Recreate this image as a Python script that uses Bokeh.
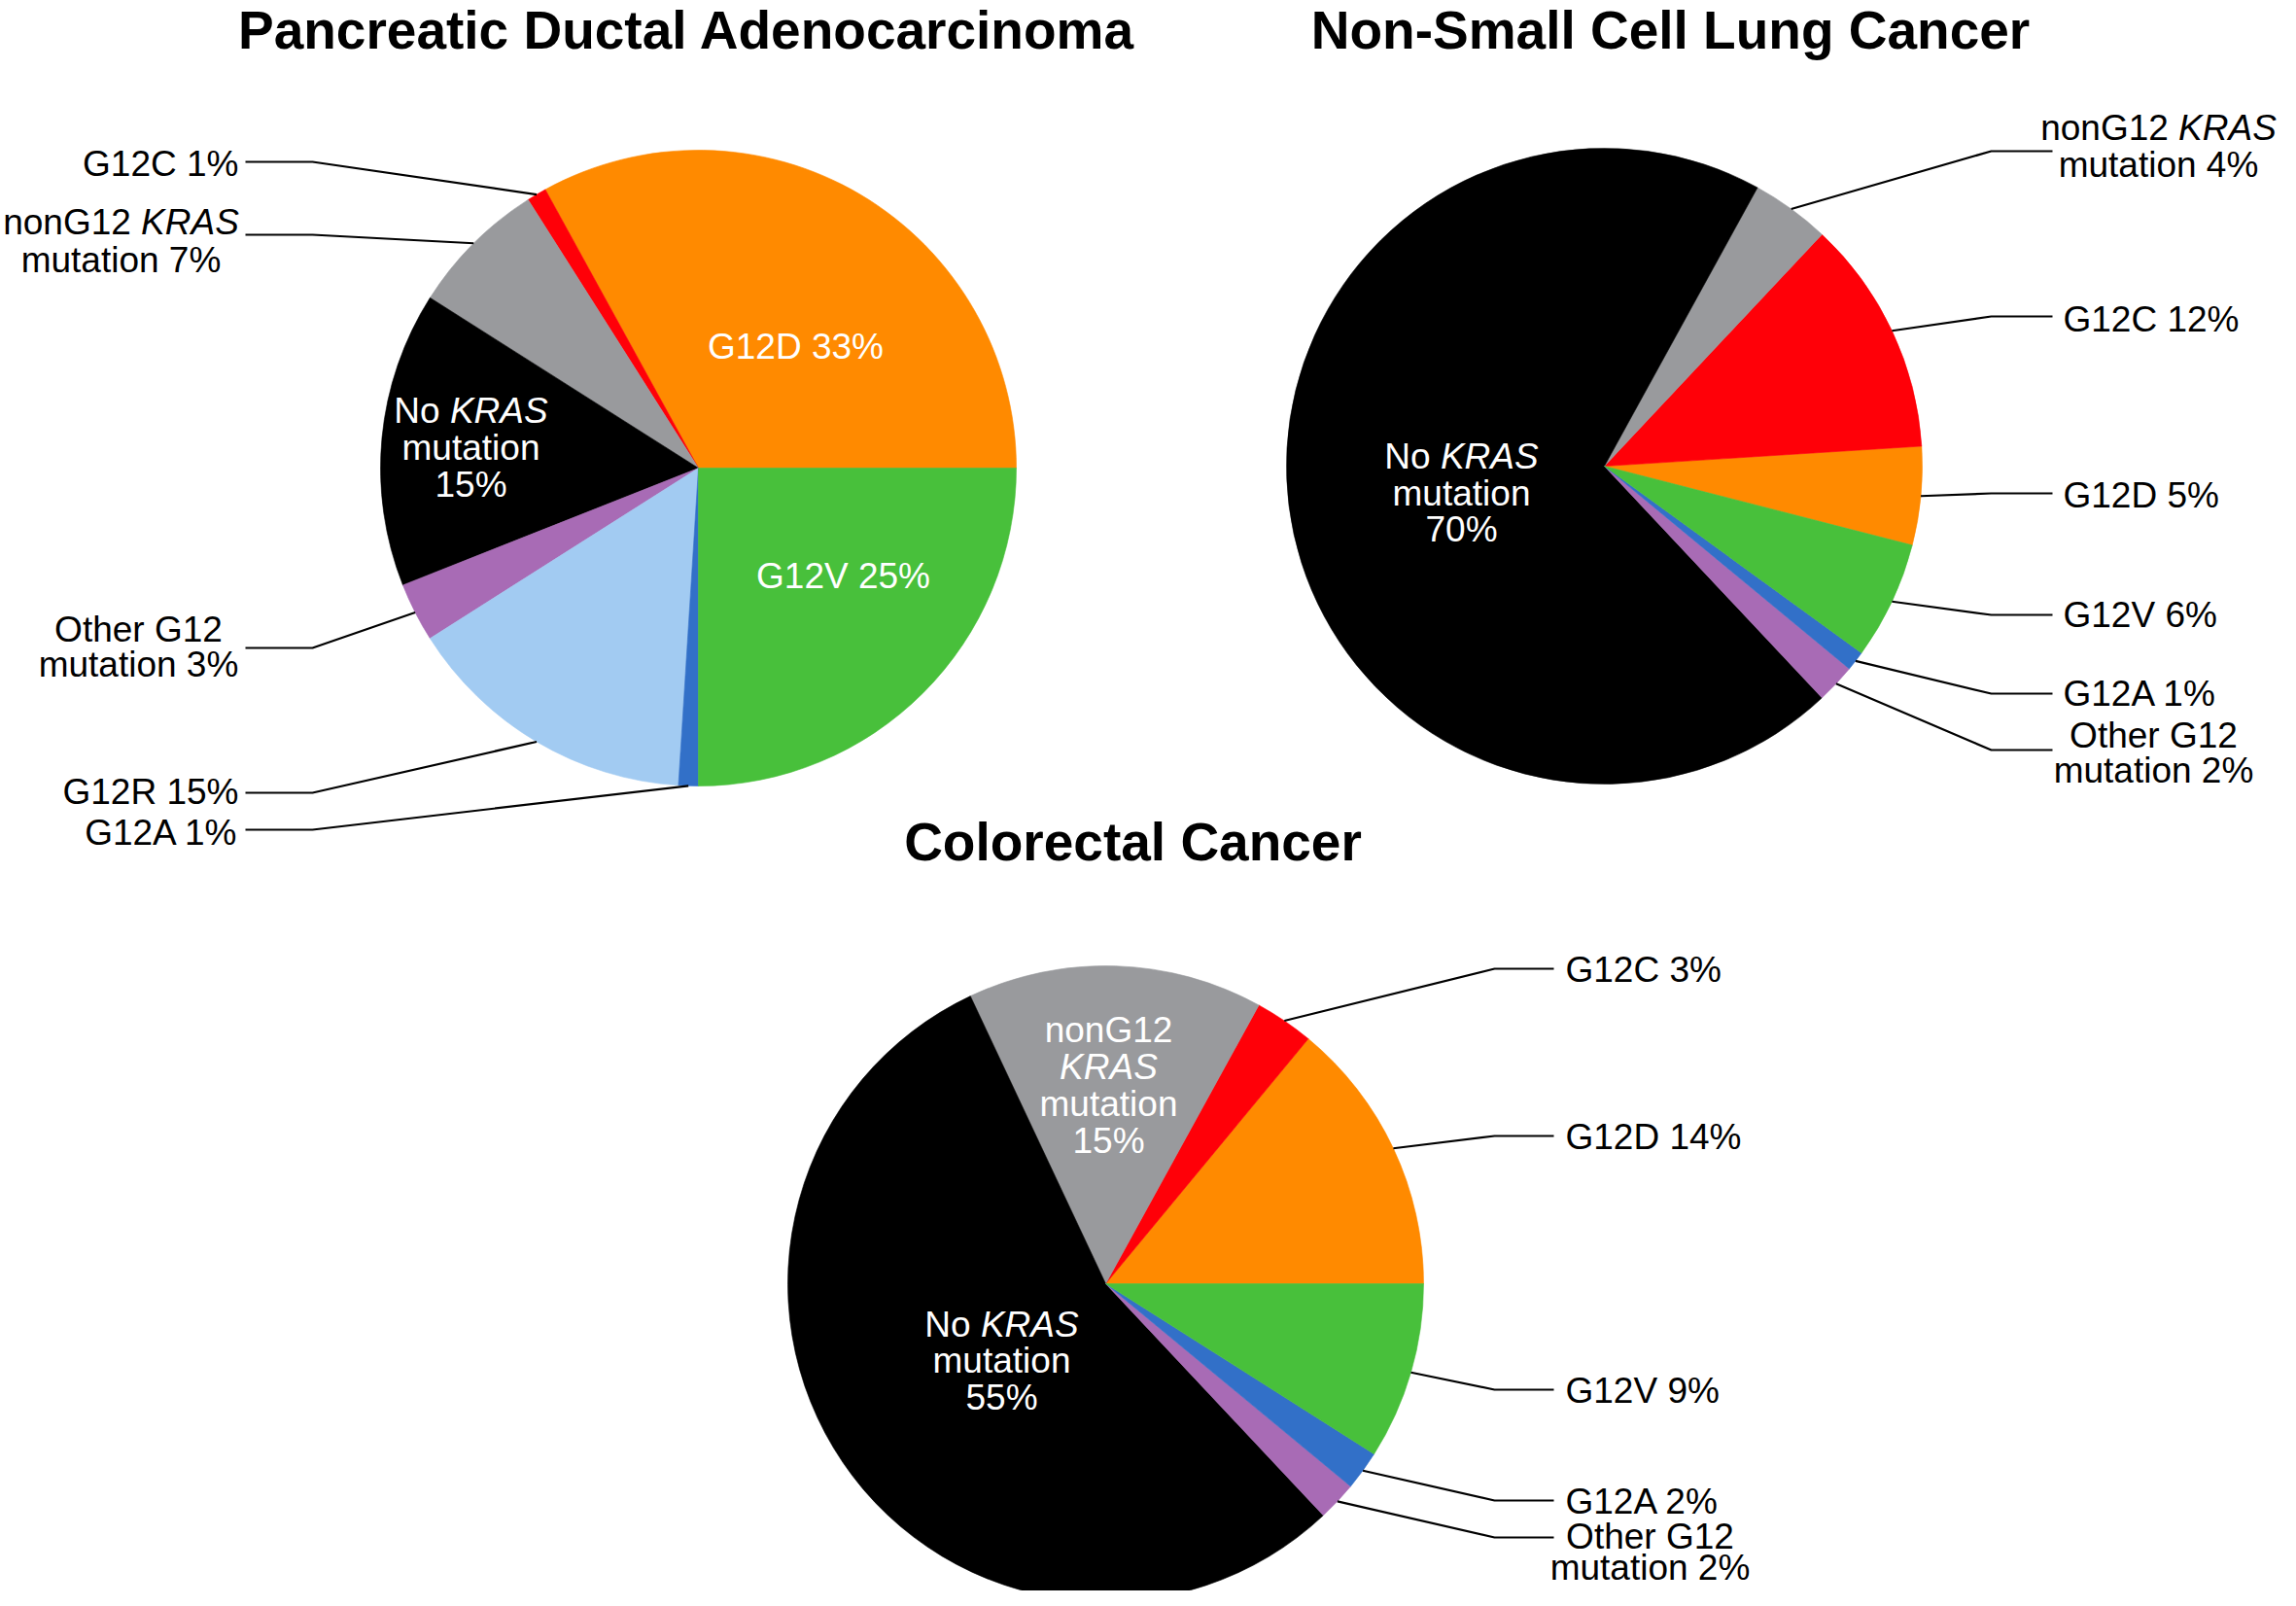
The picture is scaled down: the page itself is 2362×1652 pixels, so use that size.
import math
from bokeh.plotting import figure
from bokeh.models import Range1d, ColumnDataSource
from bokeh.core.properties import value, field
from bokeh.embed import file_html
from bokeh.resources import INLINE

# ------------------------------------------------------------------ data
pdac_categories = ["G12D", "G12C", "nonG12", "NoKRAS", "Other", "G12R", "G12A", "G12V"]
pdac_values = [33, 1, 7, 15, 3, 15, 1, 25]

nsclc_categories = ["G12D", "G12C", "nonG12", "NoKRAS", "Other", "G12A", "G12V"]
nsclc_values = [5, 12, 4, 70, 2, 1, 6]

crc_categories = ["G12D", "G12C", "nonG12", "NoKRAS", "Other", "G12A", "G12V"]
crc_values = [14, 3, 15, 55, 2, 2, 9]

chart_titles = ["Pancreatic Ductal Adenocarcinoma", "Non-Small Cell Lung Cancer", "Colorectal Cancer"]

# ------------------------------------------------------------------ styles
COLORS = {
    "G12D": "#FF8A00",
    "G12C": "#FF0008",
    "nonG12": "#999A9D",
    "NoKRAS": "#000000",
    "Other": "#A86BB5",
    "G12R": "#A2CBF2",
    "G12A": "#3270C8",
    "G12V": "#48C03B",
}
FONT = "Liberation Sans"
LABEL_PX = 37
TITLE_PX = 55
MID = 0.355   # cap-centre height above the baseline, in em

# Arial / Liberation Sans advance widths (1/1000 em)
ADV = {' ': 278, '%': 889, 'A': 667, 'C': 722, 'D': 722, 'G': 778, 'K': 667, 'N': 722,
       'O': 778, 'R': 722, 'S': 667, 'V': 667, 'a': 556, 'e': 556, 'h': 556, 'i': 222,
       'm': 833, 'n': 556, 'o': 556, 'r': 333, 't': 278, 'u': 556}
for d in "0123456789":
    ADV[d] = 556


def text_width(s):
    return sum(ADV.get(c, 556) for c in s) * LABEL_PX / 1000.0


TEMPLATES = {
    "single": [[("{name} {v}%", False)]],
    "nong12_2": [[("nonG12 ", False), ("KRAS", True)], [("mutation {v}%", False)]],
    "nong12_4": [[("nonG12", False)], [("KRAS", True)], [("mutation", False)], [("{v}%", False)]],
    "nokras3": [[("No ", False), ("KRAS", True)], [("mutation", False)], [("{v}%", False)]],
    "other2": [[("Other G12", False)], [("mutation {v}%", False)]],
}

# layout of each chart (pixel positions in the picture, y downwards; base = text baselines)
PIES = [
    dict(cats=pdac_categories, vals=pdac_values, cx=718, cy=481, r=327, start=0.0,
         title_x=706, title_y=50, elbow_x=321, end_x=252,
         labels={
             "G12D": dict(tpl="single", x=818, align="center", base=[369], color="white"),
             "NoKRAS": dict(tpl="nokras3", x=484, align="center", base=[435, 473, 511], color="white"),
             "G12V": dict(tpl="single", x=867, align="center", base=[605], color="white"),
             "G12C": dict(tpl="single", x=245, align="right", base=[181], line_y=166),
             "nonG12": dict(tpl="nong12_2", x=124, align="center", base=[241, 280], line_y=241),
             "Other": dict(tpl="other2", x=142, align="center", base=[660, 696], line_y=666),
             "G12R": dict(tpl="single", x=245, align="right", base=[827], line_y=815),
             "G12A": dict(tpl="single", x=245, align="right", base=[869], line_y=853),
         }),
    dict(cats=nsclc_categories, vals=nsclc_values, cx=1650, cy=479, r=327, start=-14.4,
         title_x=1718, title_y=50, elbow_x=2048, end_x=2111,
         labels={
             "NoKRAS": dict(tpl="nokras3", x=1503, align="center", base=[482, 520, 557], color="white"),
             "nonG12": dict(tpl="nong12_2", x=2220, align="center", base=[144, 182], line_y=155),
             "G12C": dict(tpl="single", x=2122, align="left", base=[341], line_y=325),
             "G12D": dict(tpl="single", x=2122, align="left", base=[522], line_y=507),
             "G12V": dict(tpl="single", x=2122, align="left", base=[645], line_y=632),
             "G12A": dict(tpl="single", x=2122, align="left", base=[726], line_y=713),
             "Other": dict(tpl="other2", x=2215, align="center", base=[769, 805], line_y=771),
         }),
    dict(cats=crc_categories, vals=crc_values, cx=1137, cy=1320, r=327, start=0.0,
         title_x=1165, title_y=885, elbow_x=1537, end_x=1598,
         labels={
             "nonG12": dict(tpl="nong12_4", x=1140, align="center", base=[1072, 1110, 1148, 1186], color="white"),
             "NoKRAS": dict(tpl="nokras3", x=1030, align="center", base=[1375, 1412, 1450], color="white"),
             "G12C": dict(tpl="single", x=1610, align="left", base=[1010], line_y=996),
             "G12D": dict(tpl="single", x=1610, align="left", base=[1182], line_y=1168),
             "G12V": dict(tpl="single", x=1610, align="left", base=[1443], line_y=1429),
             "G12A": dict(tpl="single", x=1610, align="left", base=[1557], line_y=1543),
             "Other": dict(tpl="other2", x=1697, align="center", base=[1593, 1625], line_y=1581),
         }),
]

# ------------------------------------------------------------------ figure
W, H = 2346, 1636
p = figure(width=W, height=H, x_range=Range1d(0, W), y_range=Range1d(-H, 0),
           output_backend="svg", toolbar_location=None, min_border=0,
           x_axis_location=None, y_axis_location=None)
p.xgrid.visible = False
p.ygrid.visible = False
p.outline_line_color = None
p.background_fill_color = "white"
p.border_fill_color = "white"

wx, wy, ws, we, wc = [], [], [], [], []
lxs, lys = [], []
tx, ty, tt, tstyle, talign, tcolor = [], [], [], [], [], []
hx, hy, ht = [], [], []
lab_off = MID * LABEL_PX
tit_off = MID * TITLE_PX

for k, pie in enumerate(PIES):
    cats, vals = pie["cats"], pie["vals"]
    total = float(sum(vals))
    a = math.radians(pie["start"])
    mids = {}
    for c, v in zip(cats, vals):
        span = 2 * math.pi * v / total
        wx.append(pie["cx"]); wy.append(-pie["cy"])
        ws.append(a); we.append(a + span); wc.append(COLORS[c])
        mids[c] = a + span / 2
        a += span

    hx.append(pie["title_x"]); hy.append(-(pie["title_y"] - tit_off)); ht.append(chart_titles[k])

    for c, v in zip(cats, vals):
        spec = pie["labels"][c]
        color = spec.get("color", "black")
        for li, line in enumerate(TEMPLATES[spec["tpl"]]):
            runs = [(s.format(name=c, v=v), it) for s, it in line]
            yc = -(spec["base"][li] - lab_off)
            if len(runs) == 1:
                tx.append(spec["x"]); ty.append(yc); tt.append(runs[0][0])
                tstyle.append("italic" if runs[0][1] else "normal")
                talign.append(spec["align"]); tcolor.append(color)
            else:
                wtot = sum(text_width(s) for s, _ in runs)
                if spec["align"] == "center":
                    x0 = spec["x"] - wtot / 2
                elif spec["align"] == "right":
                    x0 = spec["x"] - wtot
                else:
                    x0 = spec["x"]
                for s, it in runs:
                    tx.append(x0); ty.append(yc); tt.append(s)
                    tstyle.append("italic" if it else "normal")
                    talign.append("left"); tcolor.append(color)
                    x0 += text_width(s)
        if "line_y" in spec:
            m = mids[c]
            sx = pie["cx"] + pie["r"] * math.cos(m)
            sy = -pie["cy"] + pie["r"] * math.sin(m)
            lxs.append([sx, pie["elbow_x"], pie["end_x"]])
            lys.append([sy, -spec["line_y"], -spec["line_y"]])

wsrc = ColumnDataSource(dict(x=wx, y=wy, s=ws, e=we, c=wc))
p.wedge(x="x", y="y", radius=327, start_angle="s", end_angle="e", direction="anticlock",
        fill_color="c", line_color="c", line_width=0.6, source=wsrc)

p.multi_line(xs=lxs, ys=lys, line_color="black", line_width=2.2)

tsrc = ColumnDataSource(dict(x=tx, y=ty, text=tt, style=tstyle, align=talign, color=tcolor))
p.text(x="x", y="y", text="text", source=tsrc, text_font=value(FONT),
       text_font_size=value(f"{LABEL_PX}px"), text_font_style=field("style"),
       text_align=field("align"), text_color=field("color"), text_baseline="middle")

hsrc = ColumnDataSource(dict(x=hx, y=hy, text=ht))
p.text(x="x", y="y", text="text", source=hsrc, text_font=value(FONT),
       text_font_size=value(f"{TITLE_PX}px"), text_font_style="bold",
       text_align="center", text_color="black", text_baseline="middle")

open("out.html", "w").write(file_html(p, INLINE))
